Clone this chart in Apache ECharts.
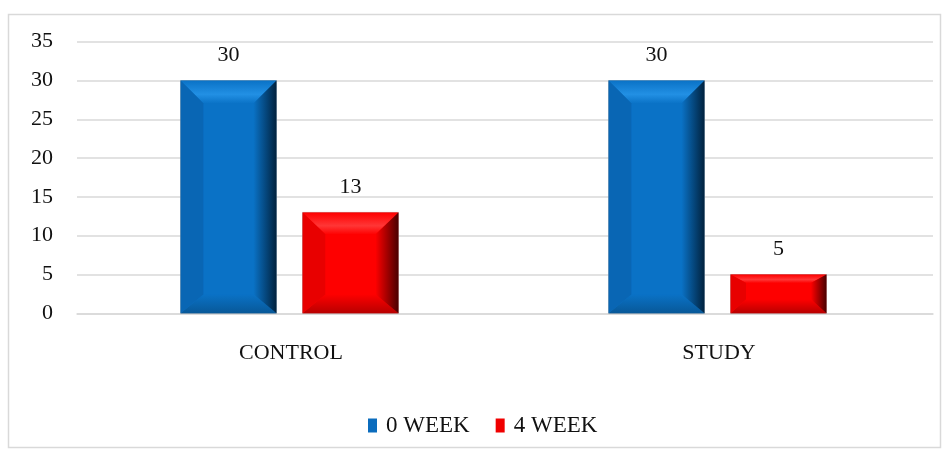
<!DOCTYPE html>
<html>
<head>
<meta charset="utf-8">
<script src="https://cdn.jsdelivr.net/npm/echarts@6/dist/echarts.min.js"></script>
<style>
  html, body { margin: 0; padding: 0; background: #fff; }
  #chart { width: 942px; height: 450px; }
</style>
</head>
<body>
<div id="chart"></div>
<script>
// chart data
const categories = ['CONTROL', 'STUDY']
const week0 = [30, 30]
const week4 = [13, 5]
const seriesNames = ['0 WEEK', '4 WEEK']
const yTicks = { min: 0, max: 35, interval: 5 }

const FONT = 'Liberation Serif'

// bevel palettes (face, top, bottom, left, right-dark)
const palettes = [
  { face: '#0a72c6', top: '#2290e4', bottom: '#085898', left: '#0966b4', right: '#01223e', legend: '#0b6cbd' },
  { face: '#fe0000', top: '#ff3636', bottom: '#b80000', left: '#e80000', right: '#4a0000', legend: '#f00000' }
]

const barRatio = 0.224 // bar width / category band
const offsets = [-0.146, 0.139] // bar centre offsets in bands

function bevelRender (idx) {
  const p = palettes[idx]
  return function (params, api) {
    const cat = api.value(0)
    const val = api.value(1)
    const base = api.coord([cat, 0])
    const top = api.coord([cat, val])
    const band = api.size([1, 0])[0]
    const w = band * barRatio
    const cx = base[0] + offsets[idx] * band
    const x0 = cx - w / 2
    const x1 = cx + w / 2
    const y0 = top[1]
    const y1 = base[1]
    const h = y1 - y0
    const bx = Math.min(23, h * 0.4)
    const bt = Math.min(23, h * 0.22)
    const bb = Math.min(19, h * 0.36)
    const ix0 = x0 + bx
    const ix1 = x1 - bx
    const iy0 = y0 + bt
    const iy1 = y1 - bb
    const poly = (pts, fill) => ({ type: 'polygon', shape: { points: pts }, style: { fill: fill } })
    return {
      type: 'group',
      children: [
        { type: 'rect', shape: { x: x0, y: y0, width: w, height: h }, style: { fill: p.face, stroke: '#9a9a9a', lineWidth: 0.6 } },
        poly([[x0, y0], [x1, y0], [ix1, iy0], [ix0, iy0]], new echarts.graphic.LinearGradient(0, 0, 0, 1, [
          { offset: 0, color: p.face },
          { offset: 0.6, color: p.top },
          { offset: 1, color: p.face }
        ])),
        poly([[x0, y1], [ix0, iy1], [ix1, iy1], [x1, y1]], new echarts.graphic.LinearGradient(0, 0, 0, 1, [
          { offset: 0, color: p.face },
          { offset: 1, color: p.bottom }
        ])),
        poly([[x0, y0], [ix0, iy0], [ix0, iy1], [x0, y1]], p.left),
        poly([[x1, y0], [x1, y1], [ix1, iy1], [ix1, iy0]], new echarts.graphic.LinearGradient(0, 0, 1, 0, [
          { offset: 0, color: p.face },
          { offset: 1, color: p.right }
        ])),
        { type: 'rect', shape: { x: ix0, y: iy0, width: ix1 - ix0, height: Math.max(0, iy1 - iy0) }, style: { fill: p.face } },
        {
          type: 'text',
          x: cx,
          y: y0 - 14,
          style: {
            text: String(val),
            fill: '#111',
            font: '22px "' + FONT + '"',
            textAlign: 'center',
            textVerticalAlign: 'bottom'
          }
        }
      ]
    }
  }
}

const chart = echarts.init(document.getElementById('chart'))
chart.setOption({
  animation: false,
  backgroundColor: '#fff',
  textStyle: { fontFamily: FONT },
  graphic: [{
    type: 'rect',
    shape: { x: 8.5, y: 14.5, width: 932, height: 433 },
    style: { fill: 'none', stroke: '#d9d9d9', lineWidth: 1.5 },
    silent: true
  }],
  grid: {
    left: 77,
    right: 9,
    top: 41.7,
    bottom: 136.7
  },
  legend: {
    left: 363,
    top: 409,
    itemWidth: 9,
    itemHeight: 14,
    itemGap: 26,
    icon: 'rect',
    textStyle: { fontFamily: FONT, fontSize: 23, color: '#111', padding: [0, 0, 0, 4] },
    data: seriesNames
  },
  xAxis: {
    type: 'category',
    data: categories,
    axisTick: { show: false },
    axisLine: { lineStyle: { color: '#d9d9d9', width: 1.5 } },
    axisLabel: { margin: 29, fontSize: 22, color: '#111', fontFamily: FONT }
  },
  yAxis: {
    type: 'value',
    min: yTicks.min,
    max: yTicks.max,
    interval: yTicks.interval,
    axisLine: { show: false },
    axisTick: { show: false },
    axisLabel: { margin: 24, fontSize: 22, color: '#111', fontFamily: FONT },
    splitLine: { lineStyle: { color: '#d9d9d9', width: 1.5 } }
  },
  series: [week0, week4].map((vals, idx) => ({
    name: seriesNames[idx],
    type: 'custom',
    renderItem: bevelRender(idx),
    itemStyle: { color: palettes[idx].legend },
    encode: { x: 0, y: 1 },
    data: vals.map((v, i) => [i, v])
  }))
})
</script>
</body>
</html>
